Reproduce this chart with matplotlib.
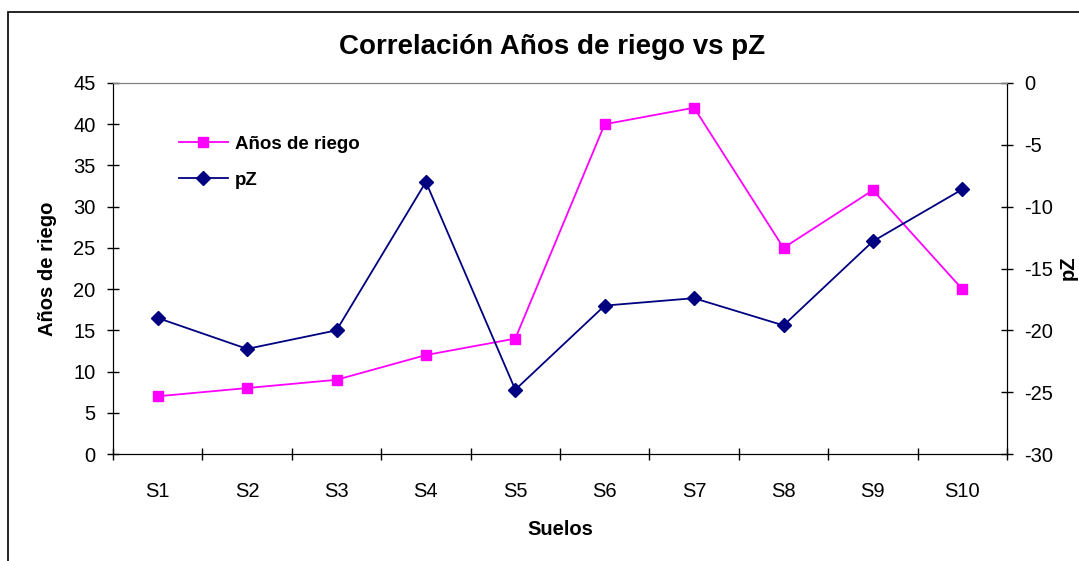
import numpy as np
import matplotlib.pyplot as plt
from matplotlib.patches import Rectangle

plt.rcParams['font.family'] = ['Liberation Sans', 'DejaVu Sans']
plt.rcParams['axes.unicode_minus'] = False

suelos = ['S1', 'S2', 'S3', 'S4', 'S5', 'S6', 'S7', 'S8', 'S9', 'S10']
anos_riego = [7, 8, 9, 12, 14, 40, 42, 25, 32, 20]
pz = [-19.0, -21.5, -20.0, -8.0, -24.8, -18.0, -17.4, -19.6, -12.8, -8.6]

fig = plt.figure(figsize=(10.79, 5.61), dpi=100)
ax = fig.add_axes([113/1079, 1-454/561, (1007-113)/1079, (454-83)/561])
ax2 = ax.twinx()

x = np.arange(len(suelos))
l1, = ax.plot(x, anos_riego, color='#FF00FF', lw=1.3, marker='s', ms=7.5,
              label='Años de riego')
l2, = ax2.plot(x, pz, color='#000080', lw=1.3, marker='D', ms=7,
               label='pZ')

ax.set_xlim(-0.5, len(suelos) - 0.5)
ax.set_ylim(0, 45)
ax.set_yticks(np.arange(0, 46, 5))
ax2.set_ylim(-30, 0)
ax2.set_yticks(np.arange(-30, 1, 5))

# category boundaries as major ticks, labels centred as minor ticks
ax.set_xticks(np.arange(-0.5, len(suelos), 1))
ax.set_xticklabels([])
ax.set_xticks(x, minor=True)
ax.set_xticklabels(suelos, minor=True)
ax.tick_params(axis='x', which='major', direction='inout', length=9, width=1)
ax.tick_params(axis='x', which='minor', length=0, pad=20, labelsize=14.5)
ax.tick_params(axis='y', direction='inout', length=9, width=1, labelsize=14.5, pad=8)
ax2.tick_params(axis='y', direction='inout', length=9, width=1, labelsize=14.5, pad=8)

for a in (ax, ax2):
    a.spines['top'].set_color('#808080')
    a.spines['left'].set_color('black')
    a.spines['right'].set_color('black')
    a.spines['bottom'].set_color('black')

ax.set_ylabel('Años de riego', fontsize=14.5, fontweight='bold', labelpad=12)
ax.set_xlabel('Suelos', fontsize=14.5, fontweight='bold', labelpad=14)
fig.text(1068/1079, 1-268/561, 'pZ', rotation=90, fontsize=14.5,
         fontweight='bold', ha='center', va='center')

fig.text(552/1079, 1-47/561, 'Correlación Años de riego vs pZ',
         fontsize=20, fontweight='bold', ha='center', va='center')

ax.legend([l1, l2], ['Años de riego', 'pZ'], frameon=False,
          loc='upper left', bbox_to_anchor=(162/1079, 1-119/561),
          bbox_transform=fig.transFigure, prop={'weight': 'bold', 'size': 13.5},
          handlelength=2.6, labelspacing=1.0, handletextpad=0.4)

fig.patches.append(Rectangle((8/1079, -0.1), 1.2, 1.1 - 12/561,
                             transform=fig.transFigure, fill=False,
                             edgecolor='black', lw=1.2))

plt.savefig('out.png', dpi=100)
